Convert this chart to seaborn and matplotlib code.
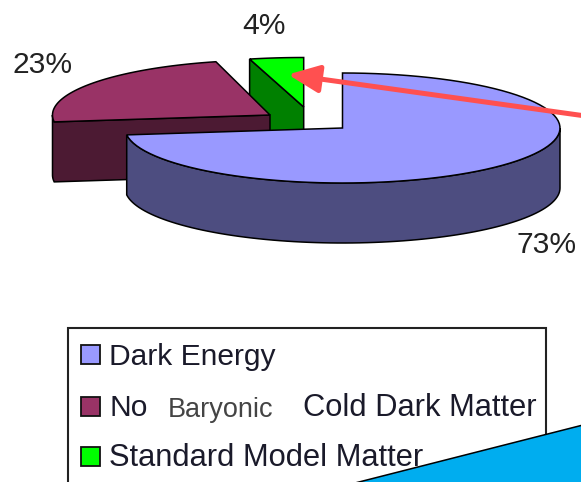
import numpy as np
import matplotlib
matplotlib.use("Agg")
import matplotlib.pyplot as plt
from matplotlib.patches import Polygon, Rectangle
import seaborn as sns

# Share of the cosmic energy budget, in percent
components = ["Dark Energy", "Non Baryonic Cold Dark Matter", "Standard Model Matter"]
shares = [73, 23, 4]
share_labels = ["73%", "23%", "4%"]

top_colors = sns.color_palette(["#9999FF", "#993366", "#00FF00"])
wall_colors = sns.color_palette(["#4D4D80", "#4C1A33", "#008000"])

sns.set_theme(style="white")
plt.rcParams["font.family"] = ["Liberation Sans", "DejaVu Sans"]

W, H = 581, 482
fig = plt.figure(figsize=(W / 100, H / 100), dpi=100)
ax = fig.add_axes([0, 0, 1, 1])
ax.set_xlim(0, W)
ax.set_ylim(H, 0)
ax.set_axis_off()

EDGE = "#000000"
LW = 1.1
RX, DEPTH = 217.5, 60
# Exploded centre and vertical radius of each slice on the tilted disc
centres = [(342.5, 128, 55), (270, 115, 55), (303.7, 107, 49.5)]

bounds = np.cumsum([0] + shares) / sum(shares) * 2 * np.pi


def rim(i, a0, a1, n=90):
    """Rim points between two clockwise-from-top angles of slice i."""
    cx, cy, ry = centres[i]
    t = np.linspace(a0, a1, n)
    return np.column_stack([cx + RX * np.sin(t), cy - ry * np.cos(t)])


def down(pts):
    return pts + np.array([0, DEPTH])


def top_face(i, z):
    cx, cy, _ = centres[i]
    pts = np.vstack([[(cx, cy)], rim(i, bounds[i], bounds[i + 1])])
    ax.add_patch(Polygon(pts, closed=True, fc=top_colors[i], ec=EDGE, lw=LW, zorder=z))


def wall(pts, i, z):
    ax.add_patch(Polygon(pts, closed=True, fc=wall_colors[i], ec=EDGE, lw=LW, zorder=z))


# Green slice: the radial cut faces the viewer
g = centres[2]
g_rim = rim(2, bounds[2], bounds[2], 1)
g_cut = np.vstack([g_rim, [g[:2]]])
wall(np.vstack([g_cut, down(g_cut)[::-1]]), 2, 1)
top_face(2, 2)

# Maroon slice: radial cut plus the short stretch of outer wall on the left
m = centres[1]
m_edge = rim(1, bounds[1], min(bounds[2], 1.5 * np.pi), 12)
m_cut = np.vstack([[m[:2]], m_edge])
wall(np.vstack([m_cut, down(m_cut)[::-1]]), 1, 3)
top_face(1, 4)

# Blue slice: outer wall along the front half of the rim
b_front = rim(0, 0.5 * np.pi, bounds[1])
wall(np.vstack([b_front, down(b_front)[::-1]]), 0, 5)
top_face(0, 6)

# Percentage labels
label_font = 21.6
ax.text(517, 253, share_labels[0], fontsize=label_font, color="#222222", zorder=8)
ax.text(12, 73, share_labels[1], fontsize=label_font, color="#222222", zorder=8)
ax.text(242, 34, share_labels[2], fontsize=label_font, color="#222222", zorder=8)

# Red pointer running in from the right edge
ax.annotate(
    "", xy=(288, 74.5), xytext=(600, 118), zorder=9, annotation_clip=False,
    arrowprops=dict(arrowstyle="-|>,head_length=0.95,head_width=0.42", color="#FF5050",
                    lw=3.6, shrinkA=0, shrinkB=0, mutation_scale=20),
)

# Legend frame, running past the bottom of the figure
ax.add_patch(Rectangle((68, 328), 478, 170, fc="white", ec="#222222", lw=1.5, zorder=10))
swatch_y = [345, 397, 447]
baselines = [365, 416, 466]
for c, y in zip(top_colors, swatch_y):
    ax.add_patch(Rectangle((81, y), 19, 19, fc=c, ec="#111111", lw=1.3, zorder=11))
txt = dict(fontsize=21.6, color="#1a1a2a", zorder=11)
ax.text(109, baselines[0], "Dark Energy", **txt)
ax.text(109, baselines[1], "No", **txt)
ax.text(168, baselines[1] + 1, "Baryonic", fontsize=19.5, color="#444444", zorder=11)
ax.text(303, baselines[1], "Cold Dark Matter", fontsize=22.2, color="#1a1a2a", zorder=11)
ax.text(109, baselines[2], "Standard Model Matter", fontsize=22.2, color="#1a1a2a", zorder=11)

# Cyan shape cutting across the lower right corner
ax.add_patch(Polygon([(355, 483), (583, 425), (583, 483)], closed=True,
                     fc="#00ADEF", ec="#000000", lw=1.1, zorder=12))

fig.savefig("out.png", dpi=100)
